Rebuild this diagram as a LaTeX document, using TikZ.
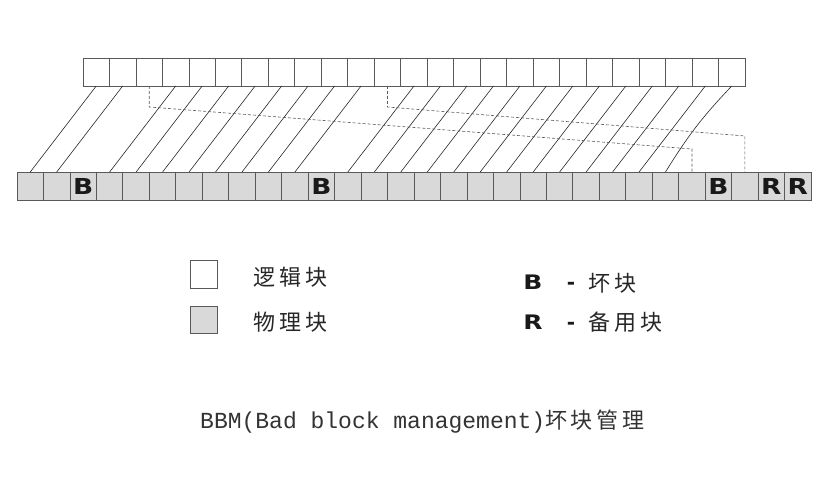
\documentclass[tikz,border=0pt]{standalone}
\usepackage{fontspec}
\newfontfamily\cjk{Noto Sans CJK SC}
\newfontfamily\heavy{DejaVu Sans}
\newfontfamily\capmono{Liberation Mono}
\colorlet{cellLine}{black!65}
\colorlet{cellFill}{black!15}
\colorlet{penColor}{black!85}
\colorlet{dashColor}{black!65}
\tikzset{
	logblock/.style={draw=cellLine,fill=white,line width=.8pt,minimum width=26.48pt,minimum height=28pt,inner sep=0pt,outer sep=0pt},
	phyblock/.style={logblock,fill=cellFill},
	badmark/.style={inner sep=0pt,black!90,font=\heavy\bfseries\fontsize{22}{22}\selectfont},
	keymark/.style={inner sep=0pt,black!90,font=\heavy\bfseries\fontsize{20}{20}\selectfont},
	keytext/.style={inner sep=0pt,anchor=west,black!85,font=\cjk\fontsize{22}{22}\selectfont\addfontfeature{LetterSpace=18}},
	link/.style={penColor,line width=.6pt},
	remap/.style={dashColor,dashed,dash pattern=on 3pt off 2pt,line width=.6pt},
}
\begin{document}
\begin{tikzpicture}[x=1pt,y=-1pt]
				\useasboundingbox (0,0) rectangle (822,478);
				% logical blocks
				\foreach \i in {0,...,24}
					\node[logblock] (L\i) at ({96.24+26.48*\i},72) {};
				% physical blocks
				\foreach \i in {0,...,29}
					\node[phyblock] (P\i) at ({30.24+26.47*\i},186) {};
				% bad and spare blocks
				\node[badmark] (bad2) at (P2) {\scalebox{1.2}[1]{B}};
				\node[badmark] (bad11) at (P11) {\scalebox{1.2}[1]{B}};
				\node[badmark] (bad26) at (P26) {\scalebox{1.2}[1]{B}};
				\node[badmark] (spare28) at (P28) {\scalebox{1.2}[1]{R}};
				\node[badmark] (spare29) at (P29) {\scalebox{1.2}[1]{R}};
				% one to one
				\foreach \i in {0,1,3,4,5,6,7,8,9,10,12,13,14,15,16,17,18,19,20,21,22,23}
					\draw[link] (L\i.south) -- (P\i.north);
				\draw[link] (L24.south) to[bend right=6] (P24.north);
				% remapped to the spare area
				\draw[remap] (L2.south) -- ++(0,21) -- ([yshift=23pt]P25.north) -- (P25.north);
				\draw[remap] (L11.south) -- ++(0,21) -- ([yshift=36pt]P27.north) -- (P27.north);
				% legend
				\node[logblock,minimum width=27pt] (keyLog) at (203.5,274) {};
				\node[phyblock,minimum width=27pt,minimum height=27pt] (keyPhy) at (203.5,319.5) {};
				\node[keytext] (txtLog) at (253,277) {逻辑块};
				\node[keytext] (txtPhy) at (253,322) {物理块};
				\node[keymark] (keyB) at (533,282) {\scalebox{1.25}[1]{B}};
				\node[keymark] (keyR) at (533,322) {\scalebox{1.25}[1]{R}};
				\node[keymark,anchor=base] (dashB) at (571,0 |- keyB.base) {-};
				\node[keymark,anchor=base] (dashR) at (571,0 |- keyR.base) {-};
				\node[keytext] (txtB) at (588,283) {坏块};
				\node[keytext] (txtR) at (588,322) {备用块};
				% caption
				\node[inner sep=0pt,anchor=west,black!80] (caption) at (200,422) {{\capmono\fontsize{23}{23}\selectfont BBM(Bad block management)}{\cjk\fontsize{22}{22}\selectfont\addfontfeature{LetterSpace=17}坏块管理}};
\end{tikzpicture}
\end{document}
